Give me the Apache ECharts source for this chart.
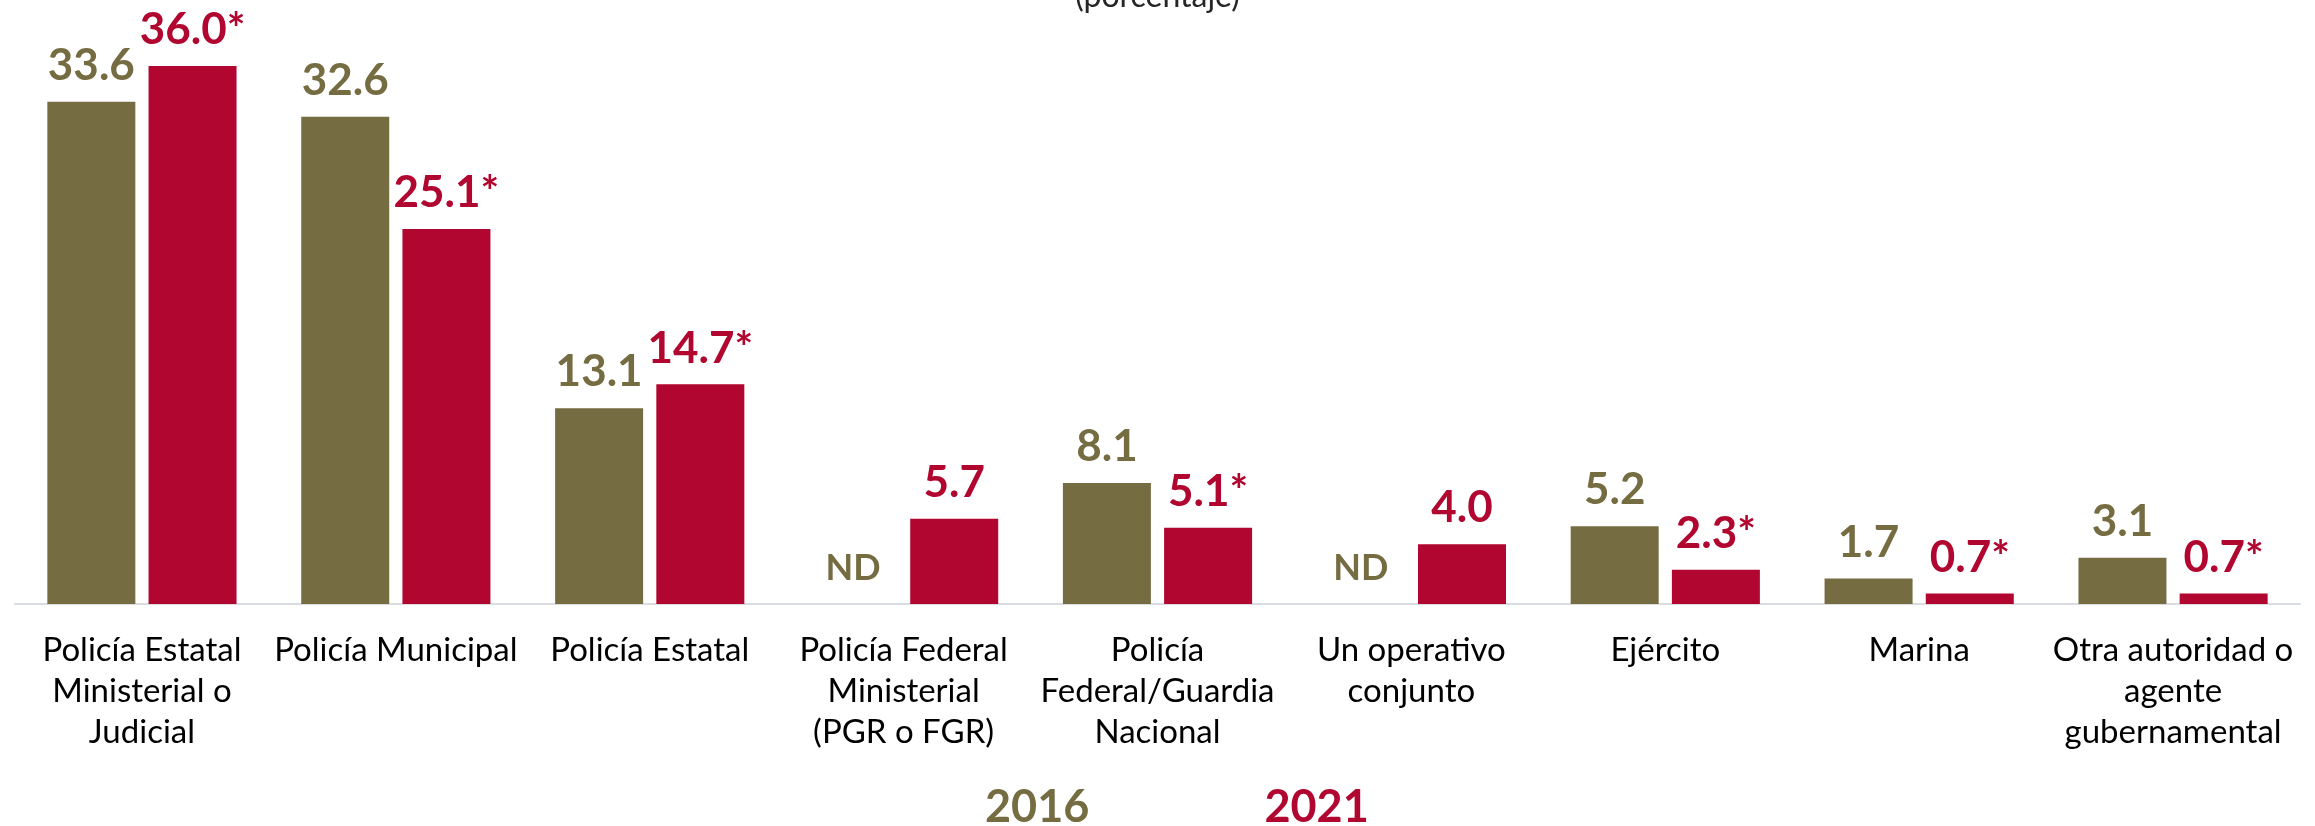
<!DOCTYPE html>
<html>
<head>
<meta charset="utf-8">
<script src="https://cdn.jsdelivr.net/npm/echarts@6/dist/echarts.min.js"></script>
<style>
  html, body { margin: 0; padding: 0; background: #fff; }
  #chart { width: 2315px; height: 826px; }
</style>
</head>
<body>
<div id="chart"></div>
<script>
// autoridades (etiquetas del eje)
const categories = [
  "Policía Estatal\nMinisterial o\nJudicial",
  "Policía Municipal",
  "Policía Estatal",
  "Policía Federal\nMinisterial\n(PGR o FGR)",
  "Policía\nFederal/Guardia\nNacional",
  "Un operativo\nconjunto",
  "Ejército",
  "Marina",
  "Otra autoridad o\nagente\ngubernamental"
];
// null = ND
const values2016 = [33.6, 32.6, 13.1, null, 8.1, null, 5.2, 1.7, 3.1];
const values2021 = [36.0, 25.1, 14.7, 5.7, 5.1, 4.0, 2.3, 0.7, 0.7];
// diferencia significativa (*)
const signif2021 = [true, true, true, false, true, false, true, true, true];

const OLIVE = "#756C42";
const RED = "#B1062F";
const FONT = "Lato";

const chart = echarts.init(document.getElementById("chart"));

const option = {
  backgroundColor: "#fff",
  animation: false,
  title: {
    text: "(porcentaje)",
    left: "center",
    top: -24,
    textStyle: { fontFamily: FONT, fontSize: 32, fontWeight: "normal", color: "#262626" }
  },
  legend: {
    left: 975,
    top: 780,
    icon: "none",
    itemWidth: 0,
    itemGap: 170,
    data: [
      { name: "2016", textStyle: { color: OLIVE } },
      { name: "2021", textStyle: { color: RED } }
    ],
    textStyle: { fontFamily: FONT, fontSize: 45, fontWeight: "bold" }
  },
  grid: { left: 15, right: 15, top: 66, bottom: 222, containLabel: false },
  xAxis: {
    type: "category",
    data: categories,
    axisLine: { lineStyle: { color: "#D9DCE1", width: 2 } },
    axisTick: { show: false },
    axisLabel: {
      interval: 0,
      margin: 26,
      fontFamily: FONT,
      fontSize: 33,
      lineHeight: 41,
      color: "#000"
    }
  },
  yAxis: { type: "value", min: 0, max: 36, show: false, splitLine: { show: false } },
  series: [
    {
      name: "2016",
      type: "bar",
      data: values2016.map(v => (v === null ? 0 : v)),
      barWidth: 88,
      barGap: "15%",
      itemStyle: { color: OLIVE },
      label: {
        show: true,
        position: "top",
        distance: 14,
        fontFamily: FONT,
        fontSize: 44,
        fontWeight: "bold",
        color: OLIVE,
        formatter: p => values2016[p.dataIndex] === null ? "{nd|ND}" : values2016[p.dataIndex].toFixed(1),
        rich: { nd: { fontFamily: FONT, fontSize: 36, fontWeight: "bold", color: OLIVE, padding: [0, 0, 4, 0] } }
      }
    },
    {
      name: "2021",
      type: "bar",
      data: values2021,
      barWidth: 88,
      itemStyle: { color: RED },
      label: {
        show: true,
        position: "top",
        distance: 14,
        fontFamily: FONT,
        fontSize: 44,
        fontWeight: "bold",
        color: RED,
        formatter: p => values2021[p.dataIndex].toFixed(1) + (signif2021[p.dataIndex] ? "*" : "")
      }
    }
  ]
};

chart.setOption(option);
</script>
</body>
</html>
